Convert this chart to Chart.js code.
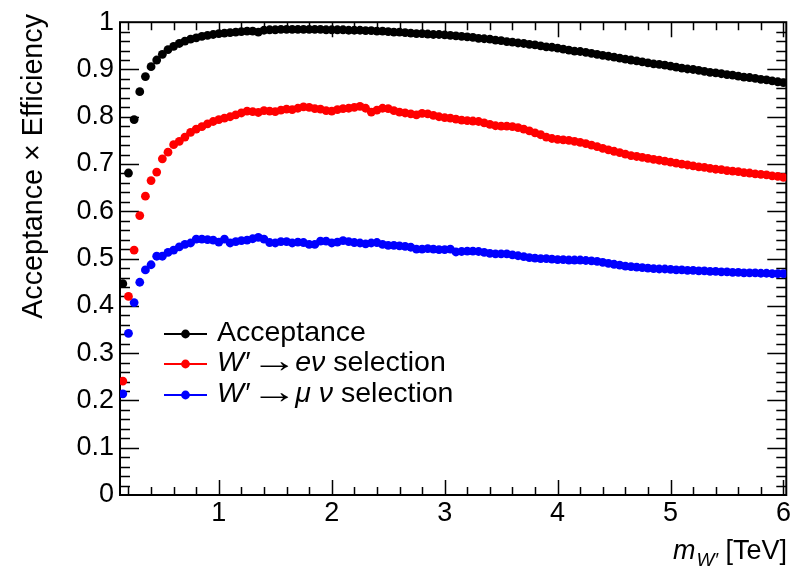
<!DOCTYPE html>
<html>
<head>
<meta charset="utf-8">
<script src="https://cdn.jsdelivr.net/npm/chart.js@4.4.1/dist/chart.umd.min.js"></script>
<style>
  html, body { margin: 0; padding: 0; background: #fff; }
  canvas { display: block; }
</style>
</head>
<body>
<canvas id="accChart" width="793" height="581"></canvas>
<script>
// W' mass points (TeV)
const massTeV = [
  0.15, 0.20, 0.25, 0.30, 0.35, 0.40, 0.45, 0.50, 0.55, 0.60,
  0.65, 0.70, 0.75, 0.80, 0.85, 0.90, 0.95, 1.00, 1.05, 1.10,
  1.15, 1.20, 1.25, 1.30, 1.35, 1.40, 1.45, 1.50, 1.55, 1.60,
  1.65, 1.70, 1.75, 1.80, 1.85, 1.90, 1.95, 2.00, 2.05, 2.10,
  2.15, 2.20, 2.25, 2.30, 2.35, 2.40, 2.45, 2.50, 2.55, 2.60,
  2.65, 2.70, 2.75, 2.80, 2.85, 2.90, 2.95, 3.00, 3.05, 3.10,
  3.15, 3.20, 3.25, 3.30, 3.35, 3.40, 3.45, 3.50, 3.55, 3.60,
  3.65, 3.70, 3.75, 3.80, 3.85, 3.90, 3.95, 4.00, 4.05, 4.10,
  4.15, 4.20, 4.25, 4.30, 4.35, 4.40, 4.45, 4.50, 4.55, 4.60,
  4.65, 4.70, 4.75, 4.80, 4.85, 4.90, 4.95, 5.00, 5.05, 5.10,
  5.15, 5.20, 5.25, 5.30, 5.35, 5.40, 5.45, 5.50, 5.55, 5.60,
  5.65, 5.70, 5.75, 5.80, 5.85, 5.90, 5.95, 6.00
];

const acceptance = [
  0.447, 0.681, 0.794, 0.853, 0.885, 0.906, 0.920, 0.932, 0.942, 0.949,
  0.955, 0.960, 0.964, 0.967, 0.970, 0.972, 0.974, 0.976, 0.977, 0.978,
  0.979, 0.980, 0.981, 0.981, 0.979, 0.983, 0.984, 0.984, 0.985, 0.985,
  0.985, 0.985, 0.985, 0.985, 0.985, 0.985, 0.984, 0.984, 0.984, 0.984,
  0.983, 0.983, 0.983, 0.982, 0.982, 0.981, 0.981, 0.980, 0.979, 0.979,
  0.978, 0.977, 0.976, 0.976, 0.975, 0.974, 0.974, 0.973, 0.972, 0.971,
  0.970, 0.969, 0.968, 0.966, 0.965, 0.964, 0.962, 0.961, 0.959, 0.958,
  0.956, 0.955, 0.953, 0.952, 0.950, 0.948, 0.947, 0.945, 0.943, 0.941,
  0.939, 0.938, 0.936, 0.934, 0.932, 0.930, 0.928, 0.926, 0.924, 0.922,
  0.920, 0.918, 0.916, 0.914, 0.912, 0.911, 0.909, 0.907, 0.905, 0.903,
  0.901, 0.900, 0.898, 0.896, 0.894, 0.893, 0.891, 0.889, 0.888, 0.886,
  0.884, 0.883, 0.881, 0.879, 0.878, 0.876, 0.874, 0.872
];

const elecSel = [
  0.241, 0.420, 0.518, 0.591, 0.632, 0.665, 0.683, 0.711, 0.725, 0.741,
  0.748, 0.757, 0.767, 0.774, 0.779, 0.785, 0.790, 0.794, 0.797, 0.800,
  0.804, 0.808, 0.812, 0.811, 0.809, 0.813, 0.812, 0.811, 0.814, 0.816,
  0.815, 0.818, 0.821, 0.820, 0.817, 0.816, 0.813, 0.812, 0.815, 0.817,
  0.818, 0.820, 0.822, 0.818, 0.810, 0.814, 0.818, 0.817, 0.813, 0.810,
  0.808, 0.806, 0.804, 0.807, 0.806, 0.803, 0.800, 0.798, 0.797, 0.795,
  0.793, 0.792, 0.791, 0.790, 0.787, 0.784, 0.781, 0.780, 0.780, 0.779,
  0.777, 0.774, 0.770, 0.766, 0.762, 0.757, 0.754, 0.752, 0.751, 0.750,
  0.748, 0.746, 0.743, 0.740, 0.737, 0.733, 0.730, 0.727, 0.724, 0.721,
  0.718, 0.716, 0.714, 0.712, 0.710, 0.708, 0.706, 0.704, 0.702, 0.700,
  0.698, 0.696, 0.694, 0.693, 0.691, 0.689, 0.688, 0.686, 0.685, 0.684,
  0.682, 0.681, 0.679, 0.678, 0.677, 0.675, 0.674, 0.672
];

const muonSel = [
  0.214, 0.342, 0.407, 0.450, 0.476, 0.487, 0.505, 0.505, 0.513, 0.518,
  0.525, 0.530, 0.533, 0.541, 0.541, 0.540, 0.539, 0.535, 0.541, 0.533,
  0.536, 0.538, 0.539, 0.542, 0.545, 0.541, 0.534, 0.533, 0.536, 0.536,
  0.533, 0.535, 0.534, 0.530, 0.530, 0.537, 0.537, 0.533, 0.535, 0.538,
  0.536, 0.534, 0.533, 0.531, 0.533, 0.534, 0.530, 0.528, 0.528, 0.527,
  0.526, 0.524, 0.520, 0.520, 0.521, 0.520, 0.519, 0.519, 0.520, 0.514,
  0.515, 0.516, 0.516, 0.515, 0.513, 0.511, 0.510, 0.510, 0.510, 0.508,
  0.506, 0.504, 0.502, 0.501, 0.500, 0.500, 0.499, 0.498, 0.498, 0.497,
  0.497, 0.497, 0.496, 0.495, 0.494, 0.492, 0.490, 0.488, 0.486, 0.484,
  0.483, 0.482, 0.481, 0.480, 0.479, 0.478, 0.478, 0.477, 0.476, 0.476,
  0.475, 0.475, 0.474, 0.474, 0.473, 0.473, 0.472, 0.472, 0.471, 0.471,
  0.470, 0.470, 0.470, 0.469, 0.469, 0.468, 0.468, 0.468
];

const xTickValues = [1, 2, 3, 4, 5, 6];
const xTickLabels = ['1', '2', '3', '4', '5', '6'];
const yTickValues = [0, 0.1, 0.2, 0.3, 0.4, 0.5, 0.6, 0.7, 0.8, 0.9, 1];
const yTickLabels = ['0', '0.1', '0.2', '0.3', '0.4', '0.5', '0.6', '0.7', '0.8', '0.9', '1'];

// legend text pieces: [text, italic]
const legendLabels = [
  [['Acceptance', false]],
  [['W\u2032', true], ['\u2192', false], ['e\u03bd', true], [' selection', false]],
  [['W\u2032', true], ['\u2192', false], ['\u03bc \u03bd', true], [' selection', false]]
];

const FONT = '"Liberation Sans", Arial, Helvetica, sans-serif';

function toPoints(ys) {
  return massTeV.map((x, i) => ({ x: x, y: ys[i] }));
}

// frame with inner ticks on all four sides (ROOT style)
const rootFrame = {
  id: 'rootFrame',
  beforeDatasetsDraw(chart) {
    const ctx = chart.ctx;
    const a = chart.chartArea;
    const xs = chart.scales.x;
    const ys = chart.scales.y;
    ctx.save();
    ctx.strokeStyle = '#000';
    ctx.lineWidth = 2;
    ctx.strokeRect(a.left, a.top, a.right - a.left, a.bottom - a.top);
    ctx.lineWidth = 1.5;
    ctx.beginPath();
    for (let v = 0.2; v < 6.03; v += 0.2) {
      const px = Math.round(xs.getPixelForValue(v)) + 0.5;
      const major = Math.abs(v - Math.round(v)) < 1e-6;
      const len = major ? 15 : 8;
      ctx.moveTo(px, a.bottom); ctx.lineTo(px, a.bottom - len);
      ctx.moveTo(px, a.top); ctx.lineTo(px, a.top + len);
    }
    for (let k = 1; k < 50; k++) {
      const v = k * 0.02;
      const py = Math.round(ys.getPixelForValue(v)) + 0.5;
      const len = (k % 5 === 0) ? 19 : 10;
      ctx.moveTo(a.left, py); ctx.lineTo(a.left + len, py);
      ctx.moveTo(a.right, py); ctx.lineTo(a.right - len, py);
    }
    ctx.stroke();
    ctx.restore();
  },
  afterDraw(chart) {
    const ctx = chart.ctx;
    ctx.save();
    ctx.fillStyle = '#000';

    // y title
    ctx.save();
    ctx.translate(42, 14);
    ctx.rotate(-Math.PI / 2);
    ctx.font = '28.7px ' + FONT;
    ctx.textAlign = 'right';
    ctx.textBaseline = 'alphabetic';
    ctx.fillText('Acceptance \u00d7 Efficiency', 0, 0);
    ctx.restore();

    // x title: m_{W'} [TeV]
    ctx.textBaseline = 'alphabetic';
    ctx.textAlign = 'left';
    const big = '27px ' + FONT;
    const bigIt = 'italic 27px ' + FONT;
    const subIt = 'italic 19px ' + FONT;
    ctx.font = big; const wUnit = ctx.measureText(' [TeV]').width;
    ctx.font = subIt; const wSub = ctx.measureText('W\u2032').width;
    ctx.font = bigIt; const wM = ctx.measureText('m').width;
    let x0 = 787 - wUnit - wSub - wM - 1;
    const base = 559;
    ctx.font = bigIt; ctx.fillText('m', x0, base); x0 += wM + 1;
    ctx.font = subIt; ctx.fillText('W\u2032', x0, base + 7); x0 += wSub;
    ctx.font = big; ctx.fillText(' [TeV]', x0, base);

    // legend
    const colors = chart.data.datasets.map(d => d.backgroundColor);
    const rowsY = [334, 364, 395];
    const fs = 28.5;
    legendLabels.forEach((parts, i) => {
      const y = rowsY[i];
      ctx.strokeStyle = colors[i];
      ctx.fillStyle = colors[i];
      ctx.lineWidth = 2;
      ctx.beginPath();
      ctx.moveTo(164, y); ctx.lineTo(207, y);
      ctx.stroke();
      ctx.beginPath();
      ctx.arc(185.5, y, 4.4, 0, Math.PI * 2);
      ctx.fill();
      ctx.fillStyle = '#000';
      let tx = 217;
      parts.forEach(p => {
        if (p[0] === '\u2192') {
          // wide thin arrow, like the symbol-font arrow of the original
          ctx.font = '30px ' + FONT;
          const m = ctx.measureText(p[0]);
          const ink = m.actualBoundingBoxRight + m.actualBoundingBoxLeft;
          const target = 28;
          const sx = target / ink;
          const inkLeft = tx + 11;
          ctx.save();
          ctx.translate(inkLeft + m.actualBoundingBoxLeft * sx, y + 8);
          ctx.scale(sx, 1.15);
          ctx.fillText(p[0], 0, 0);
          ctx.restore();
          tx = inkLeft + target + 7;
        } else {
          ctx.font = (p[1] ? 'italic ' : '') + fs + 'px ' + FONT;
          ctx.fillText(p[0], tx, y + 7);
          tx += ctx.measureText(p[0]).width;
        }
      });
    });
    ctx.restore();
  }
};

const ctx = document.getElementById('accChart').getContext('2d');

new Chart(ctx, {
  type: 'scatter',
  data: {
    datasets: [
      {
        label: 'Acceptance',
        data: toPoints(acceptance),
        backgroundColor: '#000000',
        borderColor: '#000000',
        borderWidth: 0,
        pointRadius: 4.4,
        showLine: false
      },
      {
        label: "W' -> e nu selection",
        data: toPoints(elecSel),
        backgroundColor: '#ff0000',
        borderColor: '#ff0000',
        borderWidth: 0,
        pointRadius: 4.4,
        showLine: false
      },
      {
        label: "W' -> mu nu selection",
        data: toPoints(muonSel),
        backgroundColor: '#0000ff',
        borderColor: '#0000ff',
        borderWidth: 0,
        pointRadius: 4.4,
        showLine: false
      }
    ]
  },
  options: {
    responsive: false,
    animation: false,
    devicePixelRatio: 1,
    layout: {
      padding: { top: 16, right: 6, left: 0, bottom: 0 }
    },
    scales: {
      x: {
        type: 'linear',
        min: 0.125,
        max: 6.025,
        afterBuildTicks: (scale) => {
          scale.ticks = xTickValues.map(v => ({ value: v }));
        },
        afterFit: (scale) => { scale.height = 86; },
        grid: { display: false, drawTicks: false },
        border: { display: false },
        ticks: {
          autoSkip: false,
          maxRotation: 0,
          padding: 2,
          color: '#000',
          font: { family: FONT, size: 27 },
          callback: (v) => xTickLabels[xTickValues.indexOf(v)]
        }
      },
      y: {
        type: 'linear',
        min: 0,
        max: 1,
        afterBuildTicks: (scale) => {
          scale.ticks = yTickValues.map(v => ({ value: v }));
        },
        afterFit: (scale) => { scale.width = 120; },
        grid: { display: false, drawTicks: false },
        border: { display: false },
        ticks: {
          autoSkip: false,
          padding: 6,
          color: '#000',
          font: { family: FONT, size: 27 },
          callback: (v) => yTickLabels[yTickValues.indexOf(v)]
        }
      }
    },
    plugins: {
      legend: { display: false },
      tooltip: { enabled: false }
    }
  },
  plugins: [rootFrame]
});
</script>
</body>
</html>
